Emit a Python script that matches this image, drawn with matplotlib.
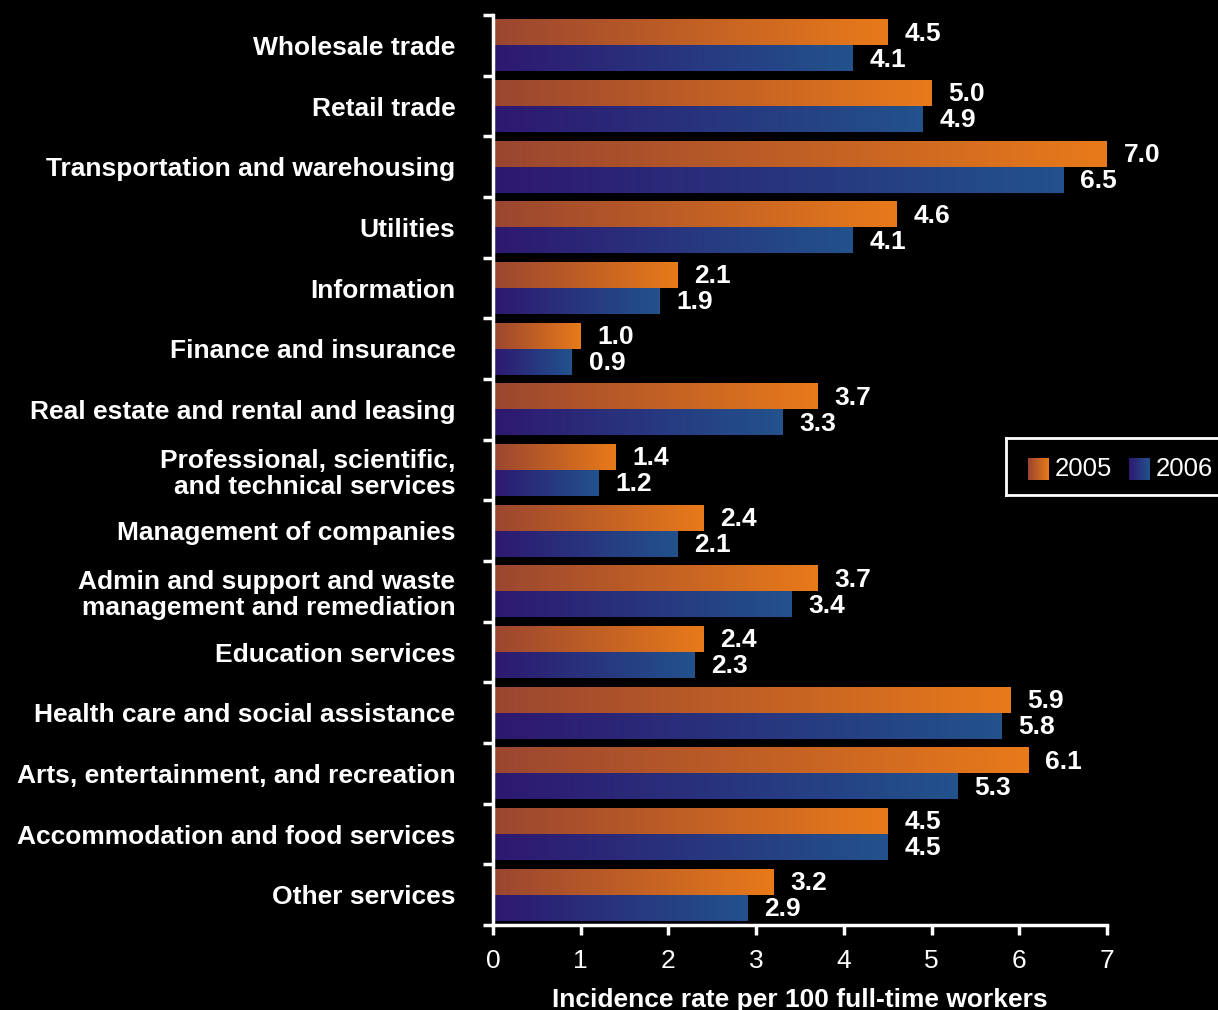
import numpy as np
import matplotlib.pyplot as plt
from matplotlib.colors import LinearSegmentedColormap

# data
industries = [
    'Wholesale trade',
    'Retail trade',
    'Transportation and warehousing',
    'Utilities',
    'Information',
    'Finance and insurance',
    'Real estate and rental and leasing',
    'Professional, scientific,\nand technical services',
    'Management of companies',
    'Admin and support and waste\nmanagement and remediation',
    'Education services',
    'Health care and social assistance',
    'Arts, entertainment, and recreation',
    'Accommodation and food services',
    'Other services',
]
rate_2005 = [4.5, 5.0, 7.0, 4.6, 2.1, 1.0, 3.7, 1.4, 2.4, 3.7, 2.4, 5.9, 6.1, 4.5, 3.2]
rate_2006 = [4.1, 4.9, 6.5, 4.1, 1.9, 0.9, 3.3, 1.2, 2.1, 3.4, 2.3, 5.8, 5.3, 4.5, 2.9]
years = ['2005', '2006']

cmap_orange = LinearSegmentedColormap.from_list('o', ['#9a4630', '#e87a1a'])
cmap_blue = LinearSegmentedColormap.from_list('b', ['#2e1870', '#22528c'])
grad = np.linspace(0, 1, 256).reshape(1, -1)

plt.rcParams['font.family'] = ['Liberation Sans', 'DejaVu Sans']

fig = plt.figure(figsize=(12.18, 10.10), dpi=100, facecolor='black')
ax = fig.add_axes([493 / 1218, 85 / 1010, 614 / 1218, 910 / 1010])
ax.set_facecolor('black')

y = np.arange(len(industries))
h = 0.43
bars05 = ax.barh(y - h / 2, rate_2005, height=h, color='none')
bars06 = ax.barh(y + h / 2, rate_2006, height=h, color='none')


def fill_gradient(bars, cmap):
    for b in bars:
        x0, y0 = b.get_x(), b.get_y()
        im = ax.imshow(grad, cmap=cmap, aspect='auto', interpolation='bicubic',
                       extent=(x0, x0 + b.get_width(), y0 + b.get_height(), y0),
                       zorder=2)
        im.set_clip_path(b)


fill_gradient(bars05, cmap_orange)
fill_gradient(bars06, cmap_blue)

for bars, vals in [(bars05, rate_2005), (bars06, rate_2006)]:
    for b, v in zip(bars, vals):
        ax.annotate(f'{v:.1f}', (b.get_width(), b.get_y() + b.get_height() / 2 + 0.02),
                    xytext=(12, 0), textcoords='offset points', va='center',
                    ha='left', color='white', fontsize=19, fontweight='bold')

ax.set_xlim(0, 7)
ax.set_ylim(len(industries) - 0.5, -0.5)

ax.set_yticks(y)
ax.set_yticklabels(industries, fontsize=19, fontweight='bold', color='white',
                   linespacing=1.12)
ax.set_yticks(np.arange(len(industries) + 1) - 0.5, minor=True)
ax.tick_params(axis='y', which='major', length=0, pad=27)
ax.tick_params(axis='y', which='minor', length=7, width=2.5, color='white')

ax.set_xticks(range(8))
ax.set_xticklabels([str(i) for i in range(8)],
                   family=['Liberation Sans Narrow', 'Liberation Sans'])
ax.tick_params(axis='x', length=7, width=2.5, color='white', labelcolor='white',
               labelsize=19, pad=10)
ax.set_xlabel('Incidence rate per 100 full-time workers', color='white',
              fontsize=19, fontweight='bold', labelpad=11,
              family=['Liberation Sans Narrow', 'Liberation Sans'])

for s in ['top', 'right']:
    ax.spines[s].set_visible(False)
for s in ['left', 'bottom']:
    ax.spines[s].set_color('white')
    ax.spines[s].set_linewidth(2.5)

# legend box
lax = fig.add_axes([1006 / 1218, 515 / 1010, 230 / 1218, 57 / 1010])
lax.set_facecolor('black')
lax.set_xticks([])
lax.set_yticks([])
for s in lax.spines.values():
    s.set_color('white')
    s.set_linewidth(2)
for x0, cmap, label in [(22, cmap_orange, years[0]), (123, cmap_blue, years[1])]:
    lax.imshow(grad, cmap=cmap, aspect='auto', extent=(x0, x0 + 21, 15, 36))
    lax.text(x0 + 27, 26, label, color='white', fontsize=18.5, va='center', ha='left')
lax.set_xlim(0, 230)
lax.set_ylim(0, 57)

fig.savefig('out.png', dpi=100, facecolor='black')
